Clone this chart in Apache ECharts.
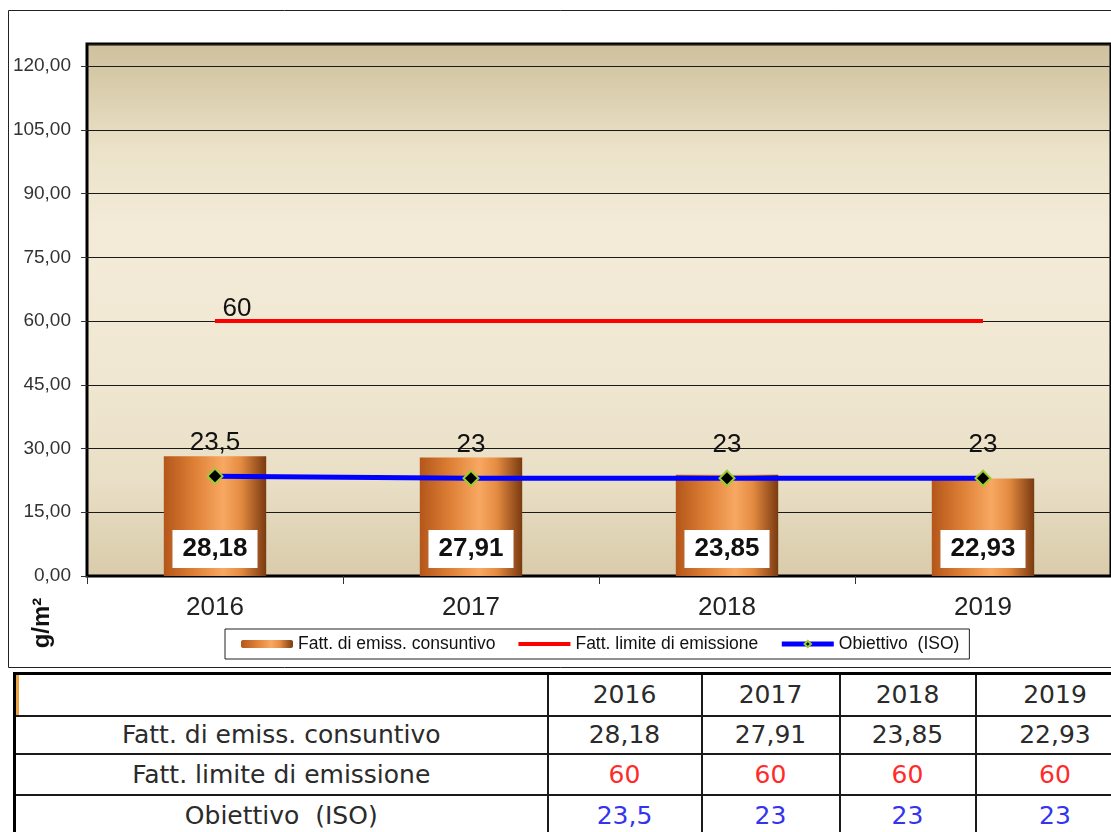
<!DOCTYPE html>
<html>
<head>
<meta charset="utf-8">
<script src="https://cdn.jsdelivr.net/npm/echarts@6/dist/echarts.min.js"></script>
<style>
  html, body { margin: 0; padding: 0; background: #fff; overflow: hidden; }
  #chart { position: absolute; left: 0; top: 0; width: 1111px; height: 832px; }
  #tbl {
    position: absolute; left: 13px; top: 672px; width: 1120px;
    border-collapse: collapse; table-layout: fixed;
    font-family: "Comic Sans MS", "DejaVu Sans", sans-serif; font-size: 25px;
    color: #2b2b2b; background: #fff;
    border-left: 3px solid #000; border-top: 3px solid #000;
  }
  #tbl td { border: 2px solid #1a1a1a; text-align: center; padding: 0; white-space: pre; overflow: hidden; }
  #tbl td.blank { box-shadow: inset 3px 0 0 #e9a445; }
</style>
</head>
<body>
<div id="chart"></div>
<table id="tbl"></table>
<script>
// dati
const years = ["2016", "2017", "2018", "2019"];
const consuntivo = [28.18, 27.91, 23.85, 22.93];
const limite = [60, 60, 60, 60];
const obiettivo = [23.5, 23, 23, 23];
const seriesNames = ["Fatt. di emiss. consuntivo", "Fatt. limite di emissione", "Obiettivo  (ISO)"];
const rowColors = ["#2b2b2b", "#ff2b2b", "#3434f0"];
const yMin = 0;
const yStep = 15;
const yMax = 125.2;

const font = "'Liberation Sans', Arial, sans-serif";
const fmt = (v) => String(v).replace(".", ",");

// tabella sotto il grafico
(function buildTable() {
  const tbl = document.getElementById("tbl");
  const widths = [533, 154, 138, 136, 159];
  const heights = [42, 38, 41, 42];
  let html = "<colgroup>" + widths.map((w) => `<col style="width:${w}px">`).join("") + "</colgroup>";
  html += `<tr style="height:${heights[0]}px"><td class="blank"></td>` + years.map((y) => `<td>${y}</td>`).join("") + "</tr>";
  [consuntivo, limite, obiettivo].forEach((row, i) => {
    html += `<tr style="height:${heights[i + 1]}px"><td>${seriesNames[i]}</td>` +
      row.map((v) => `<td style="color:${rowColors[i]}">${fmt(v)}</td>`).join("") + "</tr>";
  });
  tbl.innerHTML = html;
})();

const chart = echarts.init(document.getElementById("chart"));

const barGradient = new echarts.graphic.LinearGradient(0, 0, 1, 0, [
  { offset: 0, color: "#b4561a" },
  { offset: 0.3, color: "#de8036" },
  { offset: 0.58, color: "#f8a862" },
  { offset: 0.75, color: "#e58c42" },
  { offset: 1, color: "#7a3a10" },
]);
const plotBg = new echarts.graphic.LinearGradient(0, 0, 0, 1, [
  { offset: 0, color: "#cfc19e" },
  { offset: 0.05, color: "#d4c7a5" },
  { offset: 0.2, color: "#ebe2c9" },
  { offset: 0.35, color: "#f3ebd8" },
  { offset: 0.6, color: "#f1e8d3" },
  { offset: 0.82, color: "#e9dfc6" },
  { offset: 1, color: "#d9cbaa" },
]);

chart.setOption({
  animation: false,
  textStyle: { fontFamily: font },
  graphic: [
    {
      type: "rect",
      shape: { x: 8.5, y: 10.5, width: 1110, height: 657 },
      style: { fill: null, stroke: "#222", lineWidth: 1 },
      silent: true,
    },
    {
      type: "text",
      x: 42,
      y: 623,
      rotation: Math.PI / 2,
      style: {
        text: "g/m²",
        fontSize: 24,
        fontWeight: "bold",
        fontFamily: font,
        fill: "#111",
        textAlign: "center",
        textVerticalAlign: "middle",
      },
    },
  ],
  legend: {
    left: 225,
    top: 629,
    borderColor: "#222",
    borderWidth: 1,
    borderRadius: 0,
    padding: [6, 10, 6, 16],
    itemGap: 21,
    itemWidth: 52,
    itemHeight: 8,
    textStyle: { fontSize: 17.5, color: "#111", fontFamily: font },
    data: [
      { name: seriesNames[0] },
      { name: seriesNames[1], itemStyle: { opacity: 0 }, lineStyle: { width: 4 } },
      { name: seriesNames[2], lineStyle: { width: 5 } },
    ],
  },
  grid: {
    left: 87,
    top: 44,
    right: -3,
    bottom: 256,
    show: true,
    backgroundColor: plotBg,
    borderColor: "#000",
    borderWidth: 3,
  },
  xAxis: {
    type: "category",
    data: years,
    axisLine: { lineStyle: { color: "#000", width: 2 } },
    axisTick: { show: true, length: 8, lineStyle: { color: "#333" } },
    axisLabel: { fontSize: 26, color: "#222", margin: 19 },
  },
  yAxis: {
    type: "value",
    min: yMin,
    max: yMax,
    interval: yStep,
    axisLine: { show: false },
    axisTick: { show: true, length: 6, lineStyle: { color: "#333" } },
    axisLabel: {
      fontSize: 19,
      color: "#333",
      margin: 16,
      showMaxLabel: false,
      formatter: (v) => v.toFixed(2).replace(".", ","),
    },
    splitLine: { lineStyle: { color: "#1a1a1a", width: 1 } },
  },
  series: [
    {
      name: seriesNames[0],
      type: "bar",
      data: consuntivo,
      barWidth: "40%",
      itemStyle: { color: barGradient },
      label: {
        show: true,
        position: "insideBottom",
        distance: 8,
        formatter: (p) => fmt(p.value),
        fontSize: 26,
        fontWeight: "bold",
        color: "#111",
        backgroundColor: "#fff",
        lineHeight: 28,
        padding: [5, 10, 5, 10],
      },
      z: 2,
    },
    {
      name: seriesNames[1],
      type: "line",
      symbol: "none",
      data: limite.map((v, i) =>
        i === 0 ? { value: v, symbol: "circle", symbolSize: 1, label: { show: true } } : v
      ),
      lineStyle: { color: "#ff0000", width: 4 },
      itemStyle: { color: "#ff0000" },
      label: {
        show: false,
        position: "top",
        distance: 2,
        offset: [22, 3],
        fontSize: 26,
        color: "#111",
        formatter: (p) => fmt(p.value),
      },
      z: 3,
    },
    {
      name: seriesNames[2],
      type: "line",
      data: obiettivo,
      symbol: "diamond",
      symbolSize: 15,
      itemStyle: { color: "#000", borderColor: "#9acd32", borderWidth: 2 },
      lineStyle: { color: "#0000ff", width: 5 },
      label: {
        show: true,
        position: "top",
        distance: 12,
        fontSize: 26,
        color: "#111",
        formatter: (p) => fmt(p.value),
      },
      z: 4,
    },
  ],
});
</script>
</body>
</html>
